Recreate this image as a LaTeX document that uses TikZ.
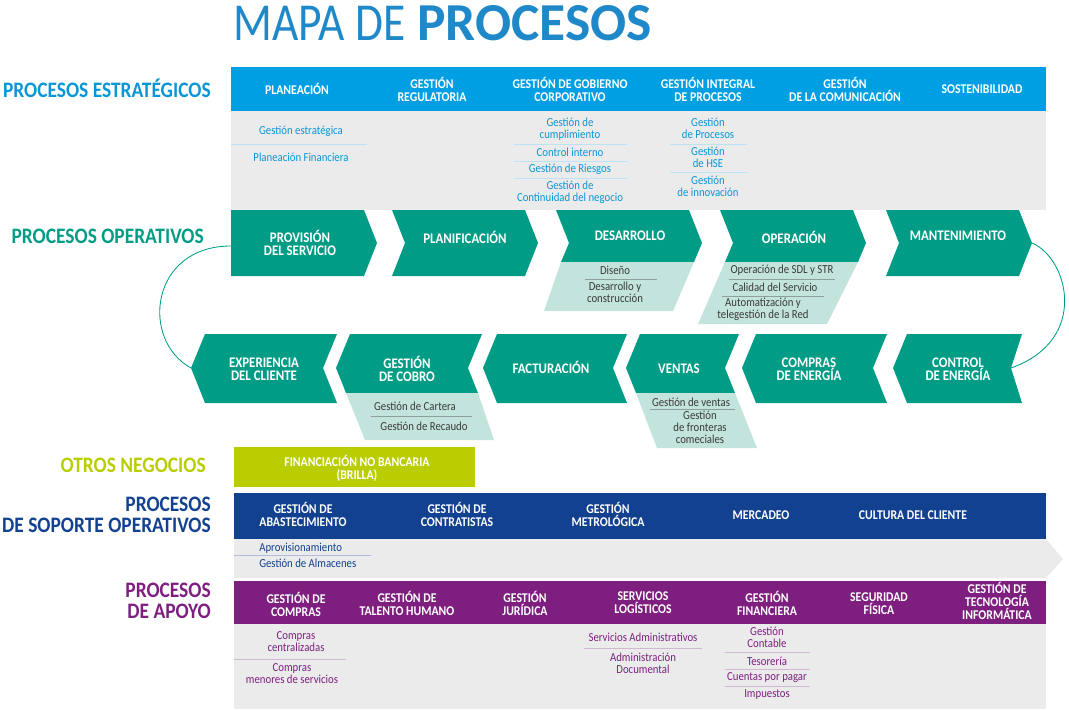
\documentclass[tikz,border=0pt]{standalone}
\usepackage{fontspec}
\setmainfont{Carlito}
\newfontfamily\lightfont{Carlito}[FakeStretch=0.85]
\newfontfamily\condfont{Carlito}[FakeStretch=0.88]

\definecolor{titleblue}{HTML}{1E88C8}
\definecolor{estblue}{HTML}{009FE3}
\definecolor{esttext}{HTML}{0996D6}
\definecolor{estline}{HTML}{BDE2F4}
\definecolor{opteal}{HTML}{009C86}
\definecolor{oplight}{HTML}{C3E4DD}
\definecolor{optext}{HTML}{3A3A3A}
\definecolor{opline}{HTML}{8C9F9B}
\definecolor{lime}{HTML}{B9CD00}
\definecolor{supblue}{HTML}{12418F}
\definecolor{supline}{HTML}{B3BCDB}
\definecolor{apopurple}{HTML}{7E1F80}
\definecolor{apoline}{HTML}{D0B7D2}
\definecolor{boxgray}{HTML}{EBEBEB}

\begin{document}
\begin{tikzpicture}[x=0.025cm, y=-0.025cm,
  head/.style={text=white, font=\condfont\bfseries\fontsize{9.5}{9.2}\selectfont, align=center, inner sep=0pt},
  chev/.style={text=white, font=\condfont\bfseries\fontsize{10.4}{9.3}\selectfont, align=center, inner sep=0pt},
  sub/.style={font=\condfont\fontsize{8.7}{8.5}\selectfont, align=center, inner sep=0pt},
  side/.style={font=\condfont\bfseries\fontsize{15.7}{15.2}\selectfont, align=right, anchor=east, inner sep=0pt},
  sep/.style={line width=0.6pt}]

\useasboundingbox (0,0) rectangle (1069,710);

\node [anchor=base west, inner sep=0pt, text=titleblue, font=\fontsize{38}{38}\selectfont] (title) at (233,40) {{\lightfont MAPA DE} \textbf{PROCESOS}};

% estrategicos
\node [side, text=esttext] (est) at (211,88) {PROCESOS ESTRATÉGICOS};
\fill [estblue] (231,67) rectangle (1046,111);
\fill [boxgray] (231,111) rectangle (1046,210);

\node [head] (plan) at (297,89) {PLANEACIÓN};
\node [head] (reg) at (432,89) {GESTIÓN\\REGULATORIA};
\node [head] (gob) at (570,89) {GESTIÓN DE GOBIERNO\\CORPORATIVO};
\node [head] (gip) at (708,89) {GESTIÓN INTEGRAL\\DE PROCESOS};
\node [head] (com) at (845,89) {GESTIÓN\\DE LA COMUNICACIÓN};
\node [head] (sost) at (982,89) {SOSTENIBILIDAD};

\node [sub, text=esttext] (gestr) at (301,131) {Gestión estratégica};
\node [sub, text=esttext] (pfin) at (301,157) {Planeación Financiera};
\draw [sep, estline] (231,144) -- (367,144);

\node [sub, text=esttext] (cump) at (570,129) {Gestión de\\cumplimiento};
\node [sub, text=esttext] (cint) at (570,152) {Control interno};
\node [sub, text=esttext] (ries) at (570,169) {Gestión de Riesgos};
\node [sub, text=esttext] (cont) at (570,192) {Gestión de\\Continuidad del negocio};
\draw [sep, estline] (514,144) -- (627,144);
\draw [sep, estline] (514,161) -- (627,161);
\draw [sep, estline] (514,178) -- (627,178);

\node [sub, text=esttext] (gproc) at (708,128) {Gestión\\de Procesos};
\node [sub, text=esttext] (ghse) at (708,157) {Gestión\\de HSE};
\node [sub, text=esttext] (ginn) at (708,186) {Gestión\\de innovación};
\draw [sep, estline] (670,144) -- (747,144);
\draw [sep, estline] (670,172) -- (747,172);

% operativos
\node [side, text=opteal] (ope) at (204,236) {PROCESOS OPERATIVOS};

\coordinate (prov-w) at (231,246);
\coordinate (exper-tip) at (191,368);
\coordinate (mant-tip) at (1032,243);
\coordinate (contr-notch) at (1011,368);

\draw [opteal, line width=0.6pt] (prov-w) .. controls (150,246) and (140,340) .. (exper-tip);
\draw [opteal, line width=0.6pt] (mant-tip) .. controls (1068,258) and (1090,340) .. (contr-notch);

\fill [opteal] (231,210) -- (364,210) -- (377,243) -- (364,276) -- (231,276) -- cycle;
\fill [opteal] (392,210) -- (525,210) -- (538,243) -- (525,276) -- (392,276) -- (405,243) -- cycle;
\fill [opteal] (556,210) -- (689,210) -- (702,243) -- (694,262) -- (561,262) -- (569,243) -- cycle;
\fill [oplight] (561,262) -- (694,262) -- (673,311) -- (544,311) -- cycle;
\fill [opteal] (720,210) -- (853,210) -- (866,243) -- (858,262) -- (725,262) -- (733,243) -- cycle;
\fill [oplight] (725,262) -- (858,262) -- (827,324) -- (698,324) -- cycle;
\fill [opteal] (886,210) -- (1019,210) -- (1032,243) -- (1019,276) -- (886,276) -- (899,243) -- cycle;

\node [chev] (prov) at (300,243) {PROVISIÓN\\DEL SERVICIO};
\node [chev] (planif) at (465,237) {PLANIFICACIÓN};
\node [chev] (desa) at (630,236) {DESARROLLO};
\node [chev] (oper) at (794,237) {OPERACIÓN};
\node [chev] (mant) at (958,236) {MANTENIMIENTO};

\node [sub, text=optext] (dise) at (615,270) {Diseño};
\node [sub, text=optext] (dcons) at (615,292) {Desarrollo y\\construcción};
\draw [sep, opline] (585,279) -- (657,279);

\node [sub, text=optext] (sdl) at (782,270) {Operación de SDL y STR};
\node [sub, text=optext] (cali) at (775,287) {Calidad del Servicio};
\node [sub, text=optext] (auto) at (763,309) {Automatización y\\telegestión de la Red};
\draw [sep, opline] (729,279) -- (835,279);
\draw [sep, opline] (722,296) -- (824,296);

\fill [opteal] (205,334) -- (337,334) -- (323,368) -- (337,403) -- (205,403) -- (191,368) -- cycle;
\fill [opteal] (350,334) -- (482,334) -- (468,368) -- (478,393) -- (346,393) -- (336,368) -- cycle;
\fill [oplight] (346,393) -- (478,393) -- (494,440) -- (365,440) -- cycle;
\fill [opteal] (497,334) -- (627,334) -- (613,368) -- (627,403) -- (497,403) -- (483,368) -- cycle;
\fill [opteal] (640,334) -- (739,334) -- (725,368) -- (735,393) -- (636,393) -- (626,368) -- cycle;
\fill [oplight] (636,393) -- (735,393) -- (757,448) -- (657,448) -- cycle;
\fill [opteal] (756,334) -- (887,334) -- (873,368) -- (887,403) -- (756,403) -- (742,368) -- cycle;
\fill [opteal] (907,334) -- (1022,334) -- (1011,368) -- (1022,403) -- (907,403) -- (893,368) -- cycle;

\node [chev] (exper) at (264,369) {EXPERIENCIA\\DEL CLIENTE};
\node [chev] (cobro) at (407,369) {GESTIÓN\\DE COBRO};
\node [chev] (fact) at (551,367) {FACTURACIÓN};
\node [chev] (vent) at (679,369) {VENTAS};
\node [chev] (compr) at (809,369) {COMPRAS\\DE ENERGÍA};
\node [chev] (contr) at (958,369) {CONTROL\\DE ENERGÍA};

\node [sub, text=optext] (cart) at (415,406) {Gestión de Cartera};
\node [sub, text=optext] (reca) at (424,426) {Gestión de Recaudo};
\draw [sep, opline] (371,416) -- (472,416);

\node [sub, text=optext] (gven) at (691,402) {Gestión de ventas};
\node [sub, text=optext] (fron) at (700,427) {Gestión\\de fronteras\\comeciales};
\draw [sep, opline] (650,409) -- (735,409);

% otros negocios
\node [side, text=lime] (otros) at (206,465) {OTROS NEGOCIOS};
\fill [lime] (234,447) rectangle (475,487);
\node [head] (brilla) at (357,468) {FINANCIACIÓN NO BANCARIA\\(BRILLA)};

% soporte operativo
\node [side, text=supblue] (sop) at (211,515) {PROCESOS\\DE SOPORTE OPERATIVOS};
\fill [supblue] (234,493) rectangle (1046,539);
\fill [boxgray] (234,539) -- (1046,539) -- (1063,559) -- (1046,578) -- (234,578) -- cycle;

\node [head] (abas) at (303,514) {GESTIÓN DE\\ABASTECIMIENTO};
\node [head] (contra) at (457,514) {GESTIÓN DE\\CONTRATISTAS};
\node [head] (metro) at (608,514) {GESTIÓN\\METROLÓGICA};
\node [head] (merc) at (761,515) {MERCADEO};
\node [head] (cult) at (913,515) {CULTURA DEL CLIENTE};

\node [sub, anchor=west, text=supblue] (aprov) at (259,548) {Aprovisionamiento};
\node [sub, anchor=west, text=supblue] (alma) at (259,563) {Gestión de Almacenes};
\draw [sep, supline] (234,555) -- (371,555);

% apoyo
\node [side, text=apopurple] (apo) at (211,601) {PROCESOS\\DE APOYO};
\fill [apopurple] (234,581) rectangle (1046,624);
\fill [boxgray] (234,624) rectangle (1046,709);

\node [head] (gcomp) at (296,604) {GESTIÓN DE\\COMPRAS};
\node [head] (tal) at (407,603) {GESTIÓN DE\\TALENTO HUMANO};
\node [head] (jur) at (525,603) {GESTIÓN\\JURÍDICA};
\node [head] (log) at (643,603) {SERVICIOS\\LOGÍSTICOS};
\node [head] (fin) at (767,603) {GESTIÓN\\FINANCIERA};
\node [head] (seg) at (879,604) {SEGURIDAD\\FÍSICA};
\node [head, font=\condfont\bfseries\fontsize{9.5}{7.6}\selectfont] (tec) at (997,601) {GESTIÓN DE\\TECNOLOGÍA\\INFORMÁTICA};

\node [sub, text=apopurple] (ccen) at (296,642) {Compras\\centralizadas};
\node [sub, text=apopurple] (cmen) at (292,674) {Compras\\menores de servicios};
\draw [sep, apoline] (234,659) -- (346,659);

\node [sub, text=apopurple] (sadm) at (643,637) {Servicios Administrativos};
\node [sub, text=apopurple] (adoc) at (643,663) {Administración\\Documental};
\draw [sep, apoline] (584,648) -- (702,648);

\node [sub, text=apopurple] (gcon) at (767,637) {Gestión\\Contable};
\node [sub, text=apopurple] (teso) at (767,661) {Tesorería};
\node [sub, text=apopurple] (cpp) at (767,678) {Cuentas por pagar};
\node [sub, text=apopurple] (imp) at (767,695) {Impuestos};
\draw [sep, apoline] (725,652) -- (810,652);
\draw [sep, apoline] (725,669) -- (810,669);
\draw [sep, apoline] (725,686) -- (810,686);
\end{tikzpicture}
\end{document}
